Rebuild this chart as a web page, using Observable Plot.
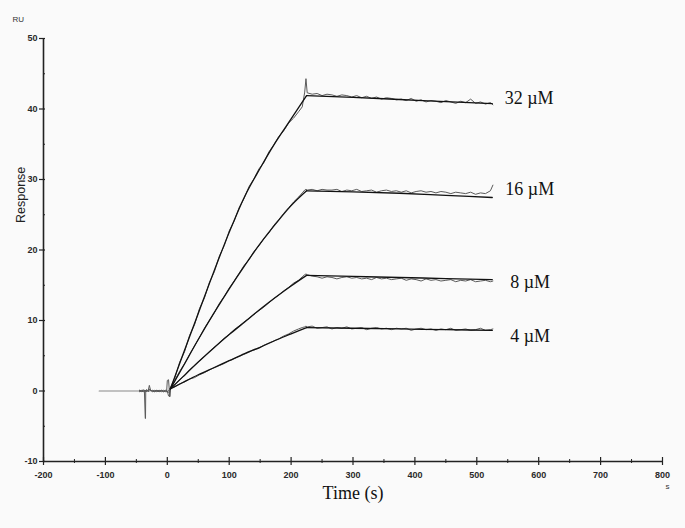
<!DOCTYPE html>
<html><head><meta charset="utf-8">
<script src="https://cdn.jsdelivr.net/npm/d3@7"></script>
<script src="https://cdn.jsdelivr.net/npm/@observablehq/plot@0.6"></script>
<style>
html,body{margin:0;padding:0;background:#fafafa;}
#chart svg{display:block;}
</style></head><body><div id="chart"></div>
<script>
// ---- data ----
const concentrations = ["32 µM", "16 µM", "8 µM", "4 µM"];

// pre-injection baseline (flat grey line)
const preT = [-110, -45];
const preY = [0, 0];

// noisy baseline around the injection
const baseT = [-45,-42,-39,-37,-35.6,-35.2,-34.8,-33,-31,-29,-27,-24,-21,-18,-15,-12,-9,-6,-3,-1,0,2,4,5];
const base32 = [0.1,-0.1,0.2,0.0,-3.9,-3.9,0.1,0.2,0.0,0.8,0.1,0.0,-0.1,0.1,0.0,-0.1,0.1,0.0,-0.1,0.0,1.5,1.6,-0.8,0.4];
const base16 = [0.0,0.1,-0.1,0.1,0.0,0.0,0.1,-0.1,0.1,0.3,0.0,0.1,-0.1,0.0,0.1,0.0,-0.1,0.1,0.0,-0.1,0.0,-0.7,-0.8,0.2];
const base8  = [-0.1,0.0,0.1,-0.1,0.1,0.0,-0.1,0.0,0.1,0.2,0.1,-0.1,0.0,0.1,-0.1,0.0,0.1,-0.1,0.1,0.0,-0.2,0.1,0.0,0.3];
const base4  = [0.1,0.0,-0.1,0.1,0.0,0.1,0.0,0.1,-0.1,0.0,0.1,0.0,0.1,-0.1,0.0,0.1,0.0,-0.1,0.0,0.1,0.0,-0.2,-0.1,0.4];

// association phase (measured)
const assocT = [5,12,20,28,36,44,52,60,68,76,84,92,100,108,116,124,132,140,148,156,164,172,180,188,196,204,212,218,222,224];
const assoc32 = [0.5,1.8,4.1,5.6,7.9,9.4,11.7,13.2,15.4,16.9,19.1,20.6,22.7,24.1,26.0,27.3,29.0,30.1,31.5,32.4,33.9,34.9,36.1,36.9,38.0,38.7,39.6,40.3,42.4,44.3];
const assoc16 = [0.2,1.5,2.8,3.9,5.2,6.4,7.6,8.9,10.0,11.1,12.4,13.4,14.6,15.6,16.7,17.8,18.6,19.8,20.6,21.6,22.4,23.5,24.3,25.2,26.0,26.8,27.5,28.1,28.5,28.6];
const assoc8  = [0.3,0.9,1.6,2.2,3.0,3.6,4.3,4.9,5.6,6.2,6.8,7.5,8.0,8.7,9.2,9.8,10.3,10.9,11.4,11.9,12.5,13.1,13.6,14.2,14.7,15.3,15.7,16.2,16.5,16.6];
const assoc4  = [0.4,0.6,1.0,1.3,1.7,1.9,2.3,2.6,3.0,3.3,3.6,3.9,4.3,4.6,4.9,5.2,5.5,5.9,6.1,6.5,6.8,7.1,7.4,7.8,8.1,8.5,8.8,9.0,9.1,9.2];

// dissociation phase (measured)
const dissocT = [226,234,242,250,258,266,274,282,290,298,306,314,322,330,338,346,354,362,370,378,386,394,402,410,418,426,434,442,450,458,466,474,482,490,498,506,514,522,526];
const dissoc32 = [42.3,42.1,42.2,41.9,42.1,42.0,41.8,42.0,41.9,41.7,41.9,41.6,41.8,41.5,41.7,41.4,41.6,41.5,41.3,41.4,41.2,41.5,41.1,41.3,41.0,41.2,41.1,40.9,41.2,41.0,40.8,41.1,40.9,41.4,40.8,41.0,40.7,40.9,40.6];
const dissoc16 = [28.5,28.6,28.4,28.6,28.5,28.5,28.6,28.3,28.5,28.4,28.6,28.3,28.4,28.5,28.2,28.4,28.5,28.3,28.4,28.2,28.4,28.1,28.3,28.4,28.2,28.3,28.1,28.3,28.2,28.0,28.2,28.1,28.0,28.2,27.9,28.1,28.0,28.4,29.2];
const dissoc8  = [16.5,16.3,16.2,16.0,16.2,16.1,15.9,16.1,16.2,16.0,16.1,15.9,16.0,15.8,16.1,15.9,16.0,15.8,15.9,16.0,15.7,15.9,15.8,15.6,15.9,15.7,15.8,15.6,15.7,15.8,15.5,15.7,15.6,15.8,15.5,15.6,15.7,15.5,15.6];
const dissoc4  = [9.1,9.2,8.9,9.0,9.1,8.8,9.0,8.9,9.1,8.8,8.9,9.0,8.7,8.9,9.0,8.8,8.9,8.7,8.9,8.8,8.9,8.6,8.8,8.9,8.7,8.8,8.6,8.8,8.7,8.9,8.6,8.7,8.8,8.6,8.7,8.9,8.6,8.7,8.8];

// fitted curves
const fitAssocT = [5,25,50,75,100,125,150,175,200,225];
const fitA32 = [0.3,5.1,11.0,16.9,22.5,27.6,31.6,35.3,38.6,41.9];
const fitA16 = [0.3,3.4,7.3,11.0,14.5,17.8,20.9,23.7,26.3,28.4];
const fitA8  = [0.3,2.0,4.1,6.1,8.0,9.8,11.6,13.3,14.9,16.4];
const fitA4  = [0.3,1.2,2.3,3.3,4.3,5.3,6.2,7.2,8.1,9.0];
const fitDissocT = [225,300,375,450,525];
const fitD32 = [41.9,41.65,41.35,41.05,40.75];
const fitD16 = [28.4,28.25,28.05,27.75,27.45];
const fitD8  = [16.4,16.25,16.1,15.95,15.8];
const fitD4  = [9.0,8.9,8.8,8.7,8.6];

// label anchors (data units)
const labelT = [545, 546, 554, 554];
const labelR = [41.5, 28.6, 15.4, 7.8];

// axis ticks
const xMajor = [-200,-100,0,100,200,300,400,500,600,700,800];
const xMinor = [-150,-50,50,150,250,350,450,550,650,750];
const yMajor = [-10,0,10,20,30,40,50];
const yMinor = [-5,5,15,25,35,45];

// ---- build tables ----
const measured = [[base32,assoc32,dissoc32],[base16,assoc16,dissoc16],[base8,assoc8,dissoc8],[base4,assoc4,dissoc4]];
const fitted = [[fitA32,fitD32],[fitA16,fitD16],[fitA8,fitD8],[fitA4,fitD4]];
const expRows = [];
concentrations.forEach((c, i) => {
  const [b, a, d] = measured[i];
  baseT.forEach((t, j) => expRows.push({series: c, t, r: b[j]}));
  assocT.forEach((t, j) => expRows.push({series: c, t, r: a[j]}));
  dissocT.forEach((t, j) => expRows.push({series: c, t, r: d[j]}));
});
const preRows = preT.map((t, j) => ({t, r: preY[j]}));
const fitRows = [];
concentrations.forEach((c, i) => {
  const [a, d] = fitted[i];
  fitAssocT.forEach((t, j) => fitRows.push({series: c + " on", t, r: a[j]}));
  fitDissocT.forEach((t, j) => fitRows.push({series: c + " off", t, r: d[j]}));
});
const labelRows = concentrations.map((c, i) => ({label: c, t: labelT[i], r: labelR[i]}));

const axisColor = "#222";
const tickFont = "Liberation Sans, Arial, sans-serif";
const fmt = d => String(d);

const chart = Plot.plot({
  width: 685,
  height: 528,
  marginLeft: 43,
  marginRight: 23,
  marginTop: 38,
  marginBottom: 67,
  style: {background: "#fafafa", fontFamily: tickFont, overflow: "visible"},
  x: {domain: [-200, 800]},
  y: {domain: [-10, 50]},
  marks: [
    Plot.ruleX([-200], {stroke: axisColor, strokeWidth: 1.6}),
    Plot.ruleY([-10], {stroke: axisColor, strokeWidth: 1.6}),
    Plot.axisX(xMajor, {tickSize: 8, dy: -4, tickFormat: () => "", label: null, stroke: axisColor, strokeWidth: 1.2}),
    Plot.axisX(xMinor, {tickSize: 4, dy: -2, tickFormat: () => "", label: null, stroke: axisColor, strokeWidth: 1}),
    Plot.axisX(xMajor, {tickSize: 0, tickPadding: 10, tickFormat: fmt, label: null, fontSize: 9, fontWeight: "bold", fill: "#2a2a2a"}),
    Plot.axisY(yMajor, {tickSize: 6, dx: 2, tickFormat: () => "", label: null, stroke: axisColor, strokeWidth: 1.2}),
    Plot.axisY(yMinor, {tickSize: 2, dx: 2, tickFormat: () => "", label: null, stroke: axisColor, strokeWidth: 1}),
    Plot.axisY(yMajor, {tickSize: 0, tickPadding: 6, tickFormat: fmt, label: null, fontSize: 9, fontWeight: "bold", fill: "#2a2a2a"}),
    Plot.line(preRows, {x: "t", y: "r", stroke: "#888", strokeWidth: 1.2}),
    Plot.line(expRows, {x: "t", y: "r", z: "series", stroke: "#5a5a5a", strokeWidth: 1}),
    Plot.line(fitRows, {x: "t", y: "r", z: "series", stroke: "#111", strokeWidth: 1.3, curve: "monotone-x"}),
    Plot.text(labelRows, {x: "t", y: "r", text: "label", textAnchor: "start", fontFamily: "Liberation Serif, Times New Roman, serif", fontSize: 18, fill: "#111"}),
    Plot.text(["RU"], {text: d => d, frameAnchor: "top-left", dx: -31, dy: -22, textAnchor: "start", fontSize: 8, fill: "#333"}),
    Plot.text(["s"], {text: d => d, frameAnchor: "bottom-right", dx: 3, dy: 27, textAnchor: "start", fontSize: 8, fill: "#333"}),
    Plot.text(["Time (s)"], {text: d => d, frameAnchor: "bottom", dy: 37, fontFamily: "Liberation Serif, Times New Roman, serif", fontSize: 18, fill: "#111"}),
    Plot.text(["Response"], {text: d => d, frameAnchor: "left", dx: -23, dy: -27, rotate: -90, fontSize: 12.5, fill: "#222"})
  ]
});
document.getElementById("chart").appendChild(chart);
</script>
</body></html>
